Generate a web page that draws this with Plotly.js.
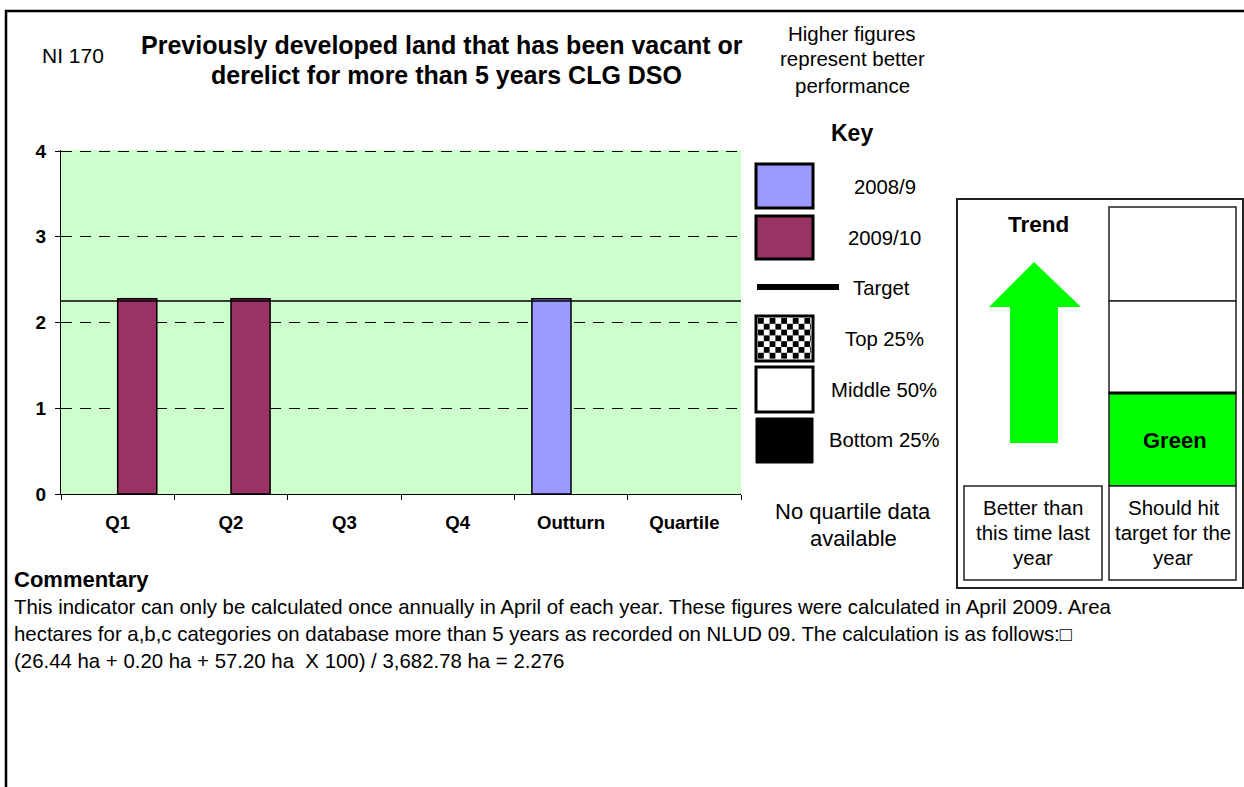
<!DOCTYPE html>
<html><head><meta charset="utf-8">
<script src="https://cdn.plot.ly/plotly-3.0.1.min.js"></script>
<style>html,body{margin:0;padding:0;background:#fff;}#chart{width:1244px;height:787px;}</style>
</head><body><div id="chart"></div>
<script>
// ---- data ----
const categories = ['Q1','Q2','Q3','Q4','Outturn','Quartile'];
const series2008 = [null,null,null,null,2.276,null];
const series2009 = [2.276,2.276,null,null,null,null];
const target = 2.25;
const yTicks = [0,1,2,3,4];
const keyLabels = ['2008/9','2009/10','Target','Top 25%','Middle 50%','Bottom 25%'];
const commentaryLines = [
  'This indicator can only be calculated once annually in April of each year. These figures were calculated in April 2009. Area',
  'hectares for a,b,c categories on database more than 5 years as recorded on NLUD 09. The calculation is as follows:\u25A1',
  '(26.44 ha + 0.20 ha + 57.20 ha  X 100) / 3,682.78 ha = 2.276'
];

// ---- layout helpers (pixel -> paper) ----
const PL=61, PR=741, PT=150, PB=494;
const fx = x => (x-PL)/(PR-PL);
const fy = y => (PB-y)/(PB-PT);
const FONT = 'Liberation Sans, Arial, sans-serif';
const shapes = [], annotations = [];
function rect(x0,y0,x1,y1,fill,lc,lw){
  shapes.push({type:'rect',xref:'paper',yref:'paper',x0:fx(x0),x1:fx(x1),y0:fy(y0),y1:fy(y1),
    fillcolor:fill||'rgba(0,0,0,0)',line:{color:lc||'black',width:lw===undefined?1.5:lw},layer:'above'});
}
function txt(x,y,t,size,bold,anchor){
  annotations.push({xref:'paper',yref:'paper',x:fx(x),y:fy(y),text:t,showarrow:false,
    xanchor:anchor||'center',yanchor:'middle',
    font:{family:FONT,size:size,color:'black',weight:bold?'bold':'normal'}});
}

// outer frame
rect(6,11,1300,900,null,'black',2.5);

// headings
txt(40,56,'NI 170',21,false,'left');
txt(442,45,'Previously developed land that has been vacant or',25,true);
txt(446,75,'derelict for more than 5 years CLG DSO',25,true);
txt(852,33,'Higher figures',20.5);
txt(852,59,'represent better',20.5);
txt(852,85,'performance',20.5);

// key
txt(852,133,'Key',23,true);
rect(756,164,813,208,'#9999FF','black',3);
txt(885,187,keyLabels[0],20.3);
rect(756,216,813,259,'#993366','black',3);
txt(884,238,keyLabels[1],20.3);
shapes.push({type:'line',xref:'paper',yref:'paper',x0:fx(757),x1:fx(839),y0:fy(287),y1:fy(287),line:{color:'black',width:6}});
txt(881,288,keyLabels[2],20.3);
// checkered swatch
rect(756,316,813,361,'white','black',3);
{
  const cs=5.8, ix0=758, iy0=318, ix1=811, iy1=359;
  for(let r=0; iy0+r*cs<iy1-0.5; r++){
    for(let c=0; ix0+c*cs<ix1-0.5; c++){
      if((r+c)%2===0){
        const a=ix0+c*cs, b=iy0+r*cs;
        shapes.push({type:'rect',xref:'paper',yref:'paper',x0:fx(a),x1:fx(Math.min(a+cs,ix1)),
          y0:fy(b),y1:fy(Math.min(b+cs,iy1)),fillcolor:'black',line:{width:0},layer:'above'});
      }
    }
  }
}
txt(885,339,keyLabels[3],20.3);
rect(756,367,813,412,'white','black',3);
txt(884,390,keyLabels[4],20.3);
rect(756,418,813,463,'black','black',1);
txt(884,440,keyLabels[5],20.3);
txt(853,511,'No quartile data',22);
txt(853,538,'available',22);

// right panel
rect(957,199,1243,588,'white','#222',2);
txt(1038,224,'Trend',22.5,true);
{
  const pts=[[1034,262],[1081,307],[1058,307],[1058,443],[1010,443],[1010,307],[989,307]];
  const path='M '+pts.map(p=>fx(p[0])+','+fy(p[1])).join(' L ')+' Z';
  shapes.push({type:'path',xref:'paper',yref:'paper',path:path,fillcolor:'#00FF00',line:{width:0}});
}
rect(964,486,1102,580,'white','#222',1.5);
txt(1033,507,'Better than',20.5);
txt(1033,532,'this time last',20.5);
txt(1033,557,'year',20.5);
rect(1109,207,1236,301,'white','#222',1.5);
rect(1109,301,1236,393,'white','#222',1.5);
rect(1109,393,1236,486,'#00FF00','#222',1.5);
shapes.push({type:'line',xref:'paper',yref:'paper',x0:fx(1109),x1:fx(1236),y0:fy(393),y1:fy(393),line:{color:'black',width:3}});
txt(1175,440,'Green',22,true);
rect(1109,486,1236,580,'white','#222',1.5);
txt(1173,507,'Should hit',20.5);
txt(1173,532,'target for the',20.5);
txt(1173,557,'year',20.5);

// commentary
txt(12,579,'Commentary',22,true,'left');
commentaryLines.forEach((l,i)=>txt(12,607+i*27,l,20.4,false,'left'));

// target line
shapes.push({type:'line',xref:'x domain',yref:'y',x0:0,x1:1,y0:target,y1:target,line:{color:'black',width:1.5},layer:'above'});

const traces = [
  {type:'bar',name:'2008/9',x:categories,y:series2008,marker:{color:'#9999FF',line:{color:'black',width:1.5}},hoverinfo:'skip'},
  {type:'bar',name:'2009/10',x:categories,y:series2009,marker:{color:'#993366',line:{color:'black',width:1.5}},hoverinfo:'skip'}
];

const layout = {
  width:1244,height:787,
  margin:{l:PL,r:1244-PR,t:PT,b:787-PB,pad:0},
  paper_bgcolor:'white',plot_bgcolor:'#CCFFCC',
  showlegend:false,barmode:'group',bargap:0.31,bargroupgap:0,
  font:{family:FONT,color:'black'},
  xaxis:{type:'category',categoryorder:'array',categoryarray:categories,tickson:'boundaries',
    ticks:'outside',ticklen:5,tickcolor:'black',showline:true,linecolor:'black',linewidth:1,
    showgrid:false,zeroline:false,ticklabelstandoff:12,
    tickfont:{family:FONT,size:18.6,weight:'bold',color:'black'}},
  yaxis:{range:[0,4.012],tickvals:yTicks,ticktext:yTicks.map(String),showgrid:true,gridcolor:'black',gridwidth:1,
    griddash:'11px,8px',showline:true,linecolor:'black',linewidth:1,ticks:'outside',ticklen:5,tickcolor:'black',
    zeroline:false,ticklabelstandoff:5,tickfont:{family:FONT,size:19,weight:'bold',color:'black'}},
  shapes:shapes,annotations:annotations
};
Plotly.newPlot('chart',traces,layout,{displayModeBar:false,staticPlot:true});
</script></body></html>
